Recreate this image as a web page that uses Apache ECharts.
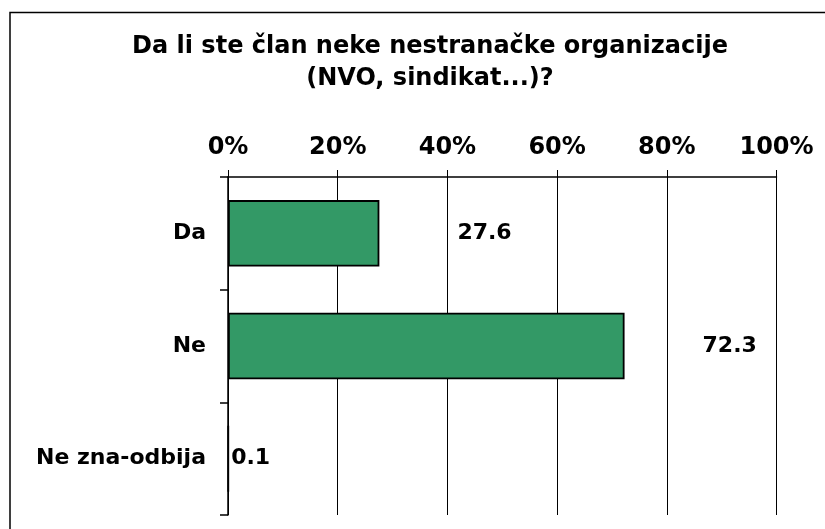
<!DOCTYPE html>
<html>
<head>
<meta charset="utf-8">
<style>
  html, body { margin: 0; padding: 0; background: #ffffff; }
  #chart { width: 825px; height: 529px; }
</style>
<script src="https://cdn.jsdelivr.net/npm/echarts@6/dist/echarts.min.js"></script>
</head>
<body>
<div id="chart"></div>
<script>
// data
var categories = ['Da', 'Ne', 'Ne zna-odbija'];
var values = [27.6, 72.3, 0.1];
var valueTicks = [0, 20, 40, 60, 80, 100];

// label gap from bar end (styling only)
var labelGaps = [78, 78, 2];

var font = 'DejaVu Sans';
var myChart = echarts.init(document.getElementById('chart'));

var option = {
    animation: false,
    backgroundColor: '#ffffff',
    title: {
        text: 'Da li ste član neke nestranačke organizacije\n(NVO, sindikat...)?',
        left: 425,
        top: 26,
        textAlign: 'center',
        textStyle: {
            fontFamily: font,
            fontWeight: 'bold',
            fontSize: 24,
            lineHeight: 32,
            color: '#000000'
        }
    },
    graphic: [{
        type: 'rect',
        shape: { x: 10, y: 12.5, width: 900, height: 600 },
        style: { fill: 'none', stroke: '#000000', lineWidth: 1.5 },
        silent: true
    }],
    grid: {
        left: 228,
        right: 48.5,
        top: 177,
        bottom: 14,
        containLabel: false
    },
    xAxis: {
        type: 'value',
        position: 'top',
        min: valueTicks[0],
        max: valueTicks[valueTicks.length - 1],
        interval: 20,
        axisLine: { show: true, lineStyle: { color: '#000000', width: 1.5 } },
        axisTick: { show: true, length: 7, lineStyle: { color: '#000000' } },
        splitLine: { show: true, lineStyle: { color: '#000000', width: 1 } },
        axisLabel: {
            margin: 17,
            formatter: '{value}%',
            color: '#000000',
            fontFamily: font,
            fontWeight: 'bold',
            fontSize: 24
        }
    },
    yAxis: {
        type: 'category',
        inverse: true,
        data: categories,
        axisLine: { show: true, lineStyle: { color: '#000000', width: 1.5 } },
        axisTick: { show: true, length: 8, lineStyle: { color: '#000000', width: 1.5 } },
        axisLabel: {
            margin: 22,
            color: '#000000',
            fontFamily: font,
            fontWeight: 'bold',
            fontSize: 22
        }
    },
    series: [{
        type: 'bar',
        barCategoryGap: '41%',
        data: values.map(function (v, i) {
            return {
                value: v,
                label: { distance: labelGaps[i] }
            };
        }),
        itemStyle: {
            color: '#339966',
            borderColor: '#000000',
            borderWidth: 1.8
        },
        label: {
            show: true,
            position: 'right',
            color: '#000000',
            fontFamily: font,
            fontWeight: 'bold',
            fontSize: 22
        }
    }]
};

myChart.setOption(option);
</script>
</body>
</html>
